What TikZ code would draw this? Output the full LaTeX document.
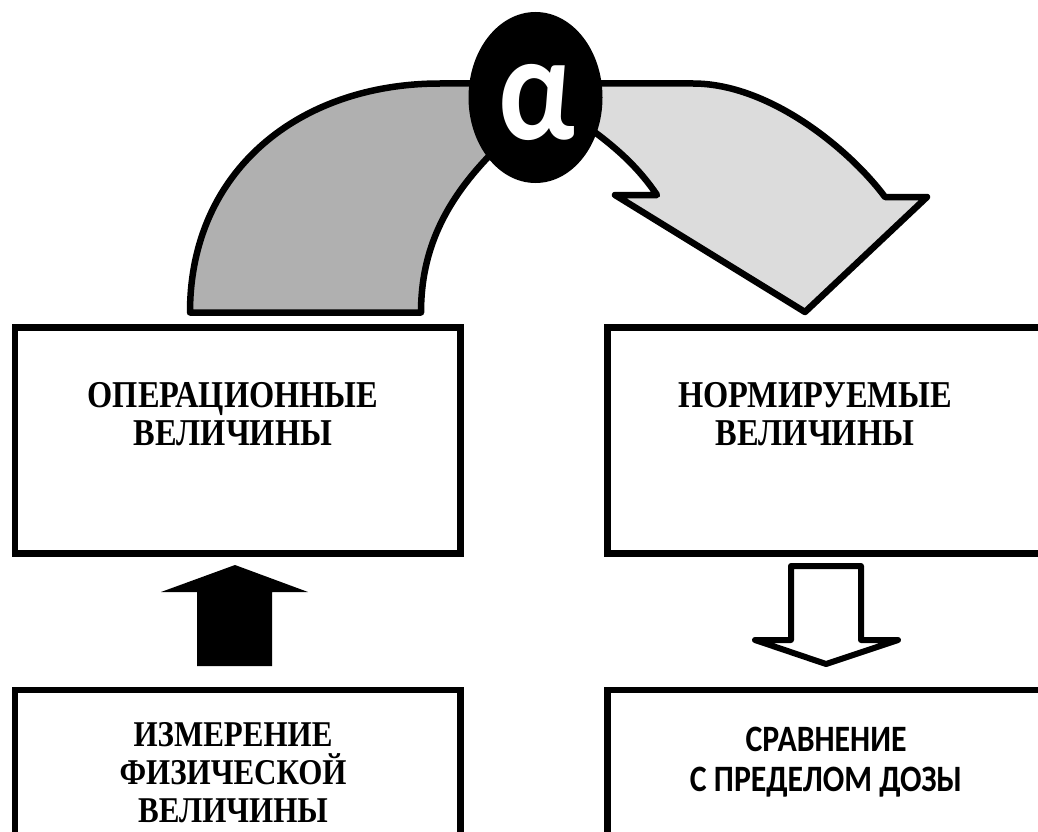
\documentclass[tikz,border=0pt]{standalone}
\usepackage{fontspec}
\setmainfont{Liberation Serif}
\newfontfamily\carlito{Carlito}
\usetikzlibrary{shapes.geometric}
\definecolor{bandgray}{RGB}{176,176,176}
\definecolor{bandlight}{RGB}{220,220,220}
\begin{document}
\begin{tikzpicture}[x=1pt,y=-1pt,
  boxst/.style={draw=black, line width=6.5pt, fill=white, rectangle, inner sep=0pt, anchor=north west},
  seriftop/.style={font=\fontsize{32.4}{32.5}\selectfont\bfseries, align=center, inner sep=0pt, yscale=1.17, transform shape},
  serifbot/.style={font=\fontsize{31}{32.5}\selectfont\bfseries, align=center, inner sep=0pt, yscale=1.17, transform shape},
  sanst/.style={font=\fontsize{31.8}{34.2}\selectfont\carlito\bfseries, align=center, inner sep=0pt, yscale=1.17, transform shape},
  band/.style={draw=black, line width=6.5pt, line join=round},
  blockarrow/.style={draw=black, line width=6pt, line join=round}]
\useasboundingbox (0,0) rectangle (1038,832);
\fill[white] (0,0) rectangle (1038,832);
% curved band arrows
\draw[band, fill=bandgray] (190,312.5) .. controls (190,170) and (300,83.5) .. (440,83.5) -- (500,83.5) -- (500,150) -- (495,150) .. controls (445,200) and (421,250) .. (421,312.5) -- cycle;
\draw[band, fill=bandlight] (570,83.5) -- (693,83.5) .. controls (770,83.5) and (850,150) .. (885,197) -- (927,197) -- (805,312) -- (615,195) -- (657,195) .. controls (640,170) and (620,150) .. (585,125) -- (570,125) -- cycle;
% alpha disc
\node[ellipse, fill=black, minimum width=134pt, minimum height=171pt, inner sep=0pt] (circ) at (535.5,97.5) {};
\node[text=white, font=\fontsize{130}{130}\selectfont\carlito\bfseries, inner sep=0pt, yscale=1.17, transform shape] (alph) at (537,102.5) {α};
% boxes
\node[boxst, minimum width=445.5pt, minimum height=226pt] (opbox) at (11.5,324) {};
\node[boxst, minimum width=450pt, minimum height=226pt] (normbox) at (604,324) {};
\node[boxst, minimum width=445.5pt, minimum height=200pt] (measbox) at (11.5,686.5) {};
\node[boxst, minimum width=450pt, minimum height=200pt] (compbox) at (604,686.5) {};
% texts
\node[seriftop] (optext) at (233,414) {ОПЕРАЦИОННЫЕ\\ВЕЛИЧИНЫ};
\node[seriftop] (normtext) at (815,414) {НОРМИРУЕМЫЕ\\ВЕЛИЧИНЫ};
\node[serifbot] (meastext) at (233,772.5) {ИЗМЕРЕНИЕ\\ФИЗИЧЕСКОЙ\\ВЕЛИЧИНЫ};
\node[sanst] (comptext) at (826,762) {СРАВНЕНИЕ\\С ПРЕДЕЛОМ ДОЗЫ};
% block arrows
\fill[black] (197,666) -- (197,592) -- (161,592) -- (235,565) -- (308,592) -- (272,592) -- (272,666) -- cycle;
\draw[blockarrow, fill=white] (791,566) -- (861,566) -- (861,640) -- (898,640) -- (826,664) -- (755,640) -- (791,640) -- cycle;
\end{tikzpicture}
\end{document}
